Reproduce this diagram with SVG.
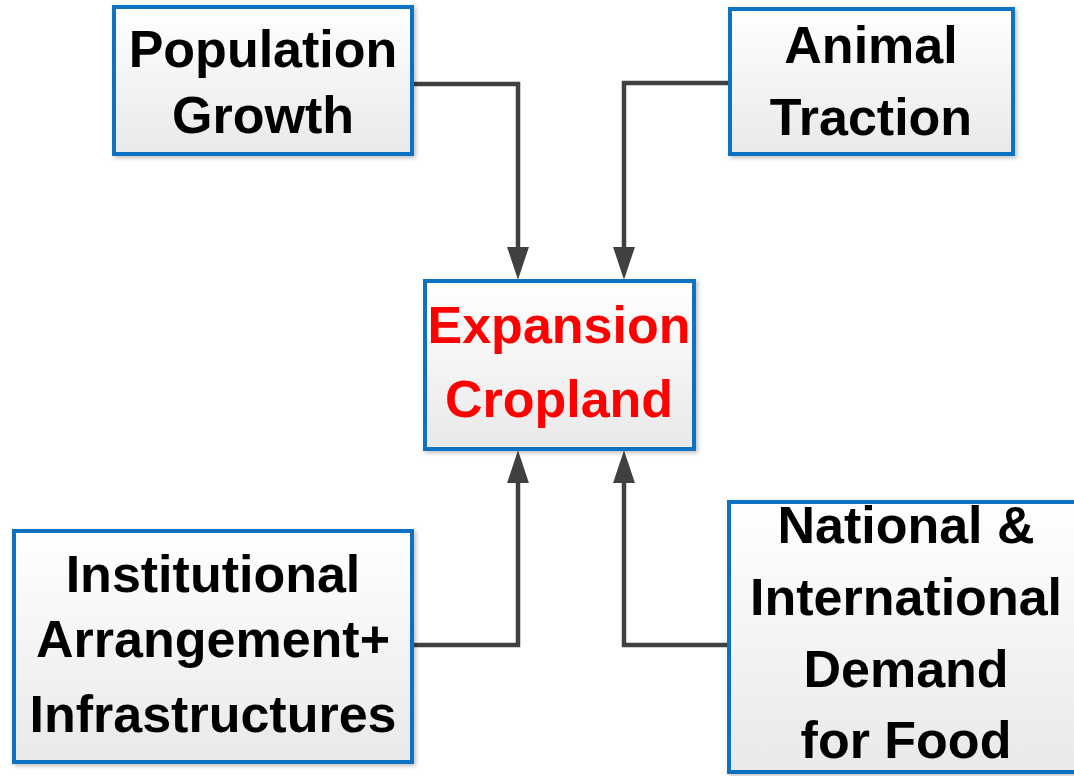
<svg xmlns="http://www.w3.org/2000/svg" width="1074" height="776" viewBox="0 0 1074 776">
<style>
.box{fill:url(#g);stroke:#0b72c2;stroke-width:4;filter:url(#sh)}
.t{font-family:"Liberation Sans",Arial,sans-serif;font-weight:bold;font-size:52px;fill:#000;text-anchor:middle}
.red{fill:#ff0000}
.c{fill:none;stroke:#404040;stroke-width:4.5}
</style>
<defs>
<linearGradient id="g" x1="0" y1="0" x2="0" y2="1">
<stop offset="0" stop-color="#ffffff"/>
<stop offset="1" stop-color="#e9e9e9"/>
</linearGradient>
<filter id="sh" x="-5%" y="-5%" width="112%" height="112%">
<feDropShadow dx="2" dy="2" stdDeviation="2" flood-color="#000" flood-opacity="0.25"/>
</filter>
<marker id="a" viewBox="0 0 10 10" refX="4" refY="5" markerUnits="userSpaceOnUse" markerWidth="33" markerHeight="22" preserveAspectRatio="none" orient="auto">
<path d="M0,0 L10,5 L0,10 Z" fill="#404040"/>
</marker>
</defs>
<rect width="1074" height="776" fill="#fff"/>
<g id="connectors">
<path class="c" d="M412,84 H518 V260" marker-end="url(#a)"/>
<path class="c" d="M729,83 H624 V260" marker-end="url(#a)"/>
<path class="c" d="M412,645 H518 V470" marker-end="url(#a)"/>
<path class="c" d="M729,645 H624 V470" marker-end="url(#a)"/>
</g>
<g id="population">
<rect class="box" x="114" y="7" width="298" height="147"/>
<text class="t" x="263" y="67">Population</text>
<text class="t" x="263" y="133">Growth</text>
</g>
<g id="animal">
<rect class="box" x="730" y="9" width="283" height="145"/>
<text class="t" x="871" y="63">Animal</text>
<text class="t" x="871" y="135">Traction</text>
</g>
<g id="expansion">
<rect class="box" x="425" y="281" width="269" height="168"/>
<text class="t red" x="559" y="343">Expansion</text>
<text class="t red" x="559" y="417">Cropland</text>
</g>
<g id="institutional">
<rect class="box" x="14" y="531" width="398" height="231"/>
<text class="t" x="213" y="592">Institutional</text>
<text class="t" x="213" y="657">Arrangement+</text>
<text class="t" x="213" y="732">Infrastructures</text>
</g>
<g id="national">
<rect class="box" x="729" y="502" width="360" height="270"/>
<text class="t" x="906" y="543">National &amp;</text>
<text class="t" x="906" y="615">International</text>
<text class="t" x="906" y="687">Demand</text>
<text class="t" x="906" y="758">for Food</text>
</g>
</svg>
